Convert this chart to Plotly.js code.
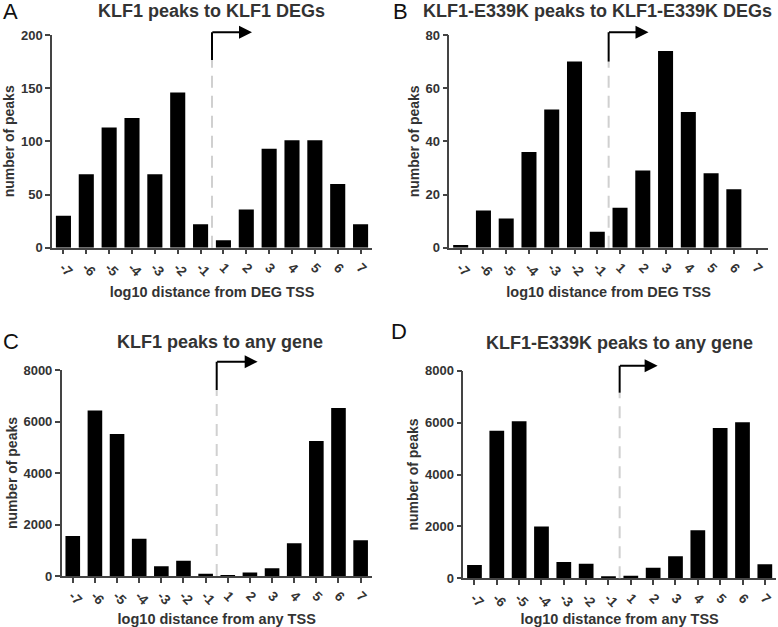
<!DOCTYPE html>
<html>
<head>
<meta charset="utf-8">
<script src="https://cdn.plot.ly/plotly-3.0.1.min.js"></script>
<style>
  body { margin: 0; background: #fff; }
  #chart { width: 778px; height: 627px; }
</style>
</head>
<body>
<div id="chart"></div>
<script>
// categories (log10 distance bins)
var bins = ['-7', '-6', '-5', '-4', '-3', '-2', '-1', '1', '2', '3', '4', '5', '6', '7'];

// peaks per bin
var klf1Deg = [30, 69, 113, 122, 69, 146, 22, 7, 36, 93, 101, 101, 60, 22];
var e339kDeg = [1, 14, 11, 36, 52, 70, 6, 15, 29, 74, 51, 28, 22, 0];
var klf1Any = [1550, 6430, 5510, 1450, 375, 595, 90, 30, 140, 300, 1270, 5240, 6520, 1385];
var e339kAny = [510, 5690, 6050, 2000, 630, 565, 75, 100, 410, 850, 1850, 5790, 6010, 540];

var titles = ['KLF1 peaks to KLF1 DEGs', 'KLF1-E339K peaks to KLF1-E339K DEGs',
              'KLF1 peaks to any gene', 'KLF1-E339K peaks to any gene'];
var letters = ['A', 'B', 'C', 'D'];
var xTitles = ['log10 distance from DEG TSS', 'log10 distance from DEG TSS',
               'log10 distance from any TSS', 'log10 distance from any TSS'];

var W = 778, H = 627;
var txt = '#333333';
var font = 'Liberation Sans, Arial, sans-serif';

// plot frames in pixels: [left, right, top, bottom]
var boxes = [[52, 372, 35, 247.7], [449.3, 768, 35, 247.7],
             [61.7, 371.7, 370, 576], [463.3, 776, 370.7, 578.3]];
var yMax = [200, 80, 8000, 8000];
var yStep = [50, 20, 2000, 2000];
// arrow: dash top, arrow top (y domain), arrow tip (category index)
var arrows = [[0.882, 1.013, 8.25], [0.875, 1.013, 8.25],
              [0.903, 1.04, 8.35], [0.894, 1.024, 8.2]];
var titlePos = [[211, 11], [597, 11], [220, 342], [619, 343]];
var letterPos = [[10, 12], [400, 12], [11, 341], [399, 332]];

var series = [klf1Deg, e339kDeg, klf1Any, e339kAny];
var data = [];
var layout = {
  width: W, height: H,
  margin: {l: 0, r: 0, t: 0, b: 0},
  paper_bgcolor: 'white', plot_bgcolor: 'white',
  showlegend: false,
  bargap: 0.34,
  font: {family: font, color: txt},
  shapes: [], annotations: []
};

for (var i = 0; i < 4; i++) {
  var n = i === 0 ? '' : String(i + 1);
  var b = boxes[i];
  data.push({
    type: 'bar', x: bins, y: series[i],
    xaxis: 'x' + n, yaxis: 'y' + n,
    marker: {color: 'black'}, hoverinfo: 'x+y'
  });
  var tv = [];
  for (var v = 0; v <= yMax[i]; v += yStep[i]) tv.push(v);
  layout['xaxis' + n] = {
    domain: [b[0] / W, b[1] / W], anchor: 'y' + n,
    type: 'category', range: [-0.5, 13.5],
    showline: true, linecolor: '#444', linewidth: 1.5,
    ticks: 'outside', ticklen: 5, tickwidth: 1.5, tickcolor: '#444',
    tickangle: 45, showgrid: false, zeroline: false,
    tickfont: {size: 13.5, family: font, color: txt, weight: 700},
    title: {text: '<b>' + xTitles[i] + '</b>', font: {size: 14.5, color: txt}, standoff: 8}
  };
  layout['yaxis' + n] = {
    domain: [1 - b[3] / H, 1 - b[2] / H], anchor: 'x' + n,
    range: [0, yMax[i]], tickvals: tv,
    showline: true, linecolor: '#444', linewidth: 1.5,
    ticks: 'outside', ticklen: 5, tickwidth: 1.5, tickcolor: '#444',
    showgrid: false, zeroline: false,
    tickfont: {size: 13, family: font, color: txt, weight: 700},
    title: {text: '<b>number of peaks</b>', font: {size: 14, color: txt}, standoff: 3}
  };

  var a = arrows[i];
  var xr = 'x' + n, yr = 'y' + n + ' domain';
  layout.shapes.push({type: 'line', xref: xr, yref: yr, x0: 6.5, x1: 6.5, y0: 0, y1: a[0],
                      line: {color: '#d0d0d0', width: 2, dash: '12px,8px'}});
  layout.shapes.push({type: 'line', xref: xr, yref: yr, x0: 6.5, x1: 6.5, y0: a[0], y1: a[1],
                      line: {color: 'black', width: 2}});
  layout.annotations.push({xref: xr, yref: yr, x: a[2], y: a[1], axref: xr, ax: 6.45, ay: 0,
                           text: '', showarrow: true, arrowhead: 2, arrowsize: 1.3,
                           arrowwidth: 2, arrowcolor: 'black'});

  layout.annotations.push({xref: 'paper', yref: 'paper', x: titlePos[i][0] / W, y: 1 - titlePos[i][1] / H,
                           text: '<b>' + titles[i] + '</b>', showarrow: false,
                           xanchor: 'center', yanchor: 'middle',
                           font: {size: 18, color: txt}});
  layout.annotations.push({xref: 'paper', yref: 'paper', x: letterPos[i][0] / W, y: 1 - letterPos[i][1] / H,
                           text: letters[i], showarrow: false,
                           xanchor: 'center', yanchor: 'middle',
                           font: {size: 22, color: '#111'}});
}

Plotly.newPlot('chart', data, layout, {displayModeBar: false});
</script>
</body>
</html>
